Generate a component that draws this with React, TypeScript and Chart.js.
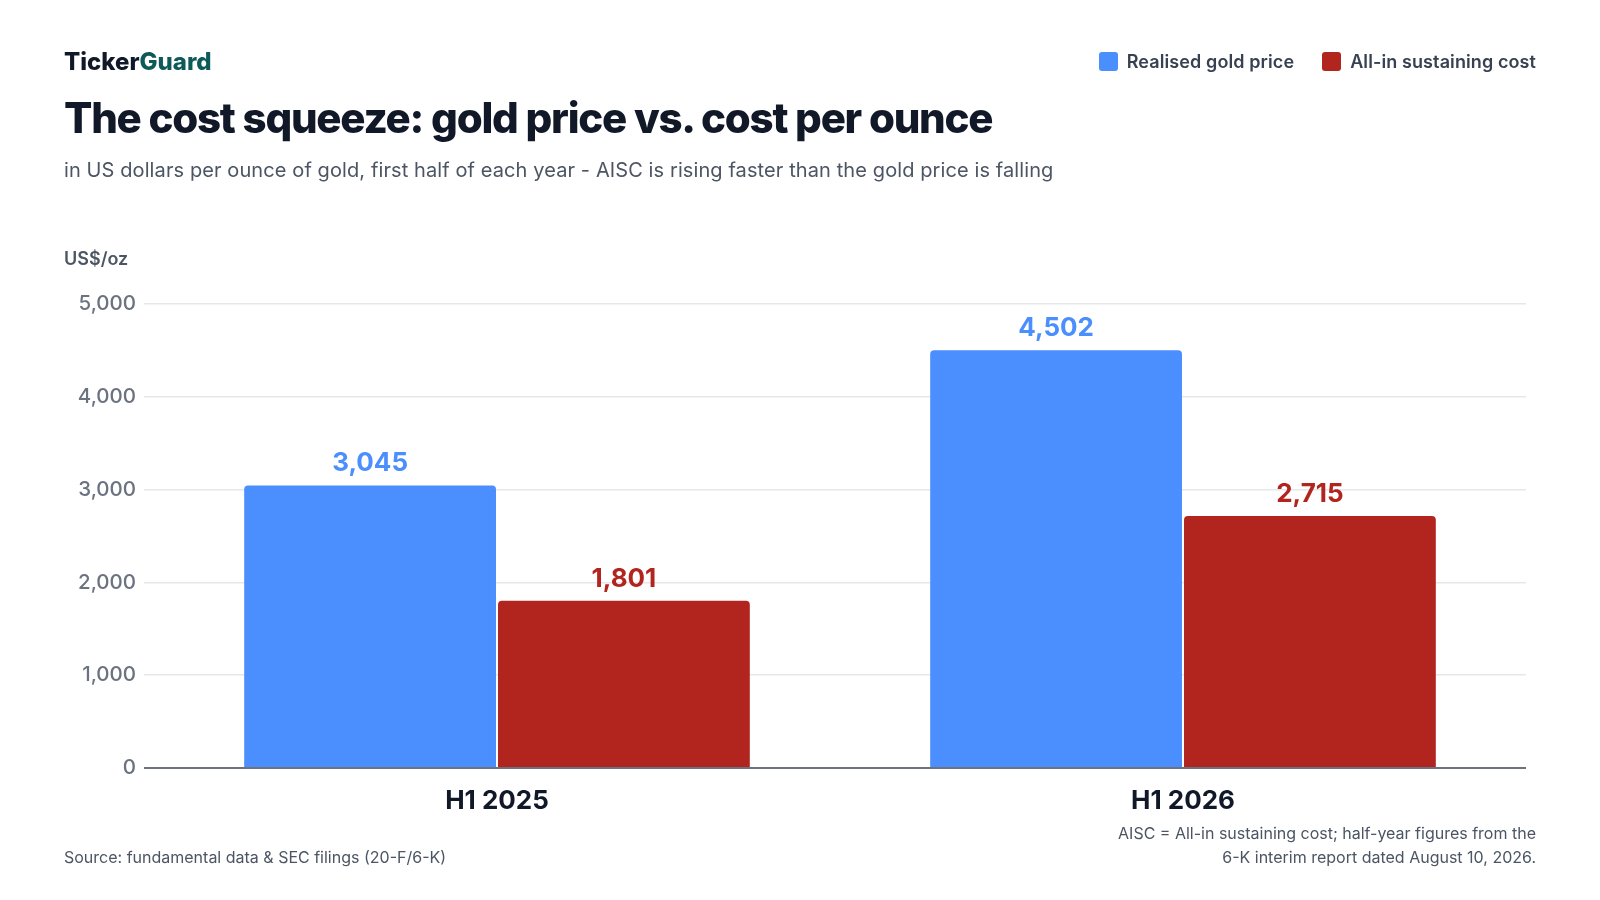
import { useEffect, useRef } from "react";
import { Chart, registerables } from "chart.js";
Chart.register(...registerables);

const categories = ["H1 2025", "H1 2026"];
const goldPrice = [3045, 4502];
const aisc = [1801, 2715];
const yTicks = [0, 1000, 2000, 3000, 4000, 5000];

const BLUE = "#4b8efd";
const RED = "#b2251e";
const FONT = "Inter, 'Noto Sans', sans-serif";

const valueLabels = {
  id: "valueLabels",
  afterDatasetsDraw(chart: any) {
    const { ctx } = chart;
    ctx.save();
    ctx.font = `700 26px ${FONT}`;
    ctx.textAlign = "center";
    ctx.textBaseline = "alphabetic";
    chart.data.datasets.forEach((ds: any, i: number) => {
      const meta = chart.getDatasetMeta(i);
      ctx.fillStyle = ds.labelColor;
      meta.data.forEach((bar: any, j: number) => {
        ctx.fillText(Number(ds.data[j]).toLocaleString("en-US"), bar.x, bar.y - 14);
      });
    });
    ctx.restore();
  },
};

const CostChart = () => {
  const canvasRef = useRef<HTMLCanvasElement | null>(null);
  useEffect(() => {
    if (!canvasRef.current) return;
    const bar = {
      categoryPercentage: 0.74,
      barPercentage: 0.992,
      borderRadius: { topLeft: 4, topRight: 4, bottomLeft: 0, bottomRight: 0 },
      borderSkipped: false as const,
    };
    const chart = new Chart(canvasRef.current, {
      type: "bar",
      data: {
        labels: categories,
        datasets: [
          { label: "Realised gold price", data: goldPrice, backgroundColor: BLUE, labelColor: BLUE, ...bar } as any,
          { label: "All-in sustaining cost", data: aisc, backgroundColor: RED, labelColor: RED, ...bar } as any,
        ],
      },
      options: {
        responsive: false,
        animation: false,
        events: [],
        layout: { padding: { left: 40, right: 74, top: 304, bottom: 0 } },
        plugins: {
          legend: { display: false },
          tooltip: { enabled: false },
        },
        scales: {
          x: {
            offset: true,
            grid: { display: false },
            border: { display: false },
            ticks: {
              color: "#111827",
              font: { family: FONT, size: 26, weight: 700 },
              padding: 10,
            },
            afterFit: (s: any) => {
              s.height = 132;
            },
          },
          y: {
            min: 0,
            max: 5000,
            border: { display: false },
            afterFit: (s: any) => {
              s.width = 114;
            },
            afterBuildTicks: (s: any) => {
              s.ticks = yTicks.map((v) => ({ value: v }));
            },
            grid: {
              drawTicks: true,
              tickLength: 10,
              color: (c: any) => (c.tick && c.tick.value === 0 ? "#6b7280" : "#e5e7eb"),
              lineWidth: (c: any) => (c.tick && c.tick.value === 0 ? 2 : 1.5),
            },
            ticks: {
              color: "#6b7280",
              padding: 8,
              font: { family: FONT, size: 20.5, weight: 500 },
              callback: (v: any) => Number(v).toLocaleString("en-US"),
            },
          },
        },
      },
      plugins: [valueLabels],
    });
    return () => {
      chart.destroy();
    };
  }, []);
  return (
    <canvas
      ref={canvasRef}
      width={1600}
      height={900}
      style={{ position: "absolute", left: 0, top: 0, width: 1600, height: 900 }}
    />
  );
};

const text = (top: number, size: number, weight: number, color: string, extra: any = {}) => ({
  position: "absolute" as const,
  top,
  fontSize: size,
  fontWeight: weight,
  color,
  lineHeight: 1,
  whiteSpace: "nowrap" as const,
  ...extra,
});

const LegendItem = ({ color, label }: { color: string; label: string }) => (
  <div style={{ display: "flex", alignItems: "center", gap: 9 }}>
    <span style={{ width: 19, height: 19, borderRadius: 3, background: color, display: "inline-block" }} />
    <span>{label}</span>
  </div>
);

export default function App() {
  return (
    <div
      style={{
        position: "absolute",
        left: 0,
        top: 0,
        width: 1600,
        height: 900,
        background: "#fff",
        fontFamily: FONT,
        overflow: "hidden",
      }}
    >
      <CostChart />
      <div style={text(50, 24, 800, "#111827", { left: 64 })}>
        Ticker<span style={{ color: "#0e5a5a" }}>Guard</span>
      </div>
      <div style={text(52, 18, 600, "#374151", { right: 64, display: "flex", gap: 28, letterSpacing: "0.1px" })}>
        <LegendItem color={BLUE} label="Realised gold price" />
        <LegendItem color={RED} label="All-in sustaining cost" />
      </div>
      <div style={text(97, 42, 800, "#111827", { left: 64, letterSpacing: "-1.25px" })}>
        The cost squeeze: gold price vs. cost per ounce
      </div>
      <div style={text(160, 20, 400, "#4b5563", { left: 64, letterSpacing: "0.1px" })}>
        in US dollars per ounce of gold, first half of each year - AISC is rising faster than the gold price is falling
      </div>
      <div style={text(250, 18, 600, "#4b5563", { left: 64 })}>US$/oz</div>
      <div style={text(849, 16, 400, "#4b5563", { left: 64 })}>
        Source: fundamental data &amp; SEC filings (20-F/6-K)
      </div>
      <div style={text(821, 16, 400, "#4b5563", { right: 64, textAlign: "right", lineHeight: "24px" })}>
        AISC = All-in sustaining cost; half-year figures from the
        <br />
        6-K interim report dated August 10, 2026.
      </div>
    </div>
  );
}
